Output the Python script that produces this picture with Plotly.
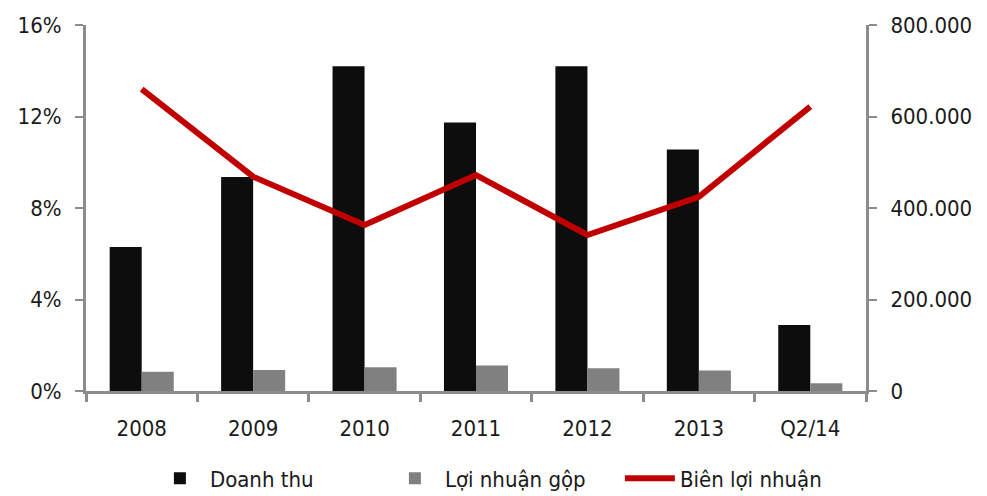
import plotly.graph_objects as go

categories = ["2008", "2009", "2010", "2011", "2012", "2013", "Q2/14"]
doanh_thu = [315000, 468000, 710000, 587000, 710000, 528000, 144000]
loi_nhuan_gop = [42000, 46000, 52000, 56000, 50000, 45000, 17000]
bien_loi_nhuan = [13.2, 9.37, 7.26, 9.44, 6.82, 8.49, 12.43]

left_ticks = [0, 4, 8, 12, 16]
left_labels = ["0%", "4%", "8%", "12%", "16%"]
right_ticks = [0, 200000, 400000, 600000, 800000]
right_labels = ["0", "200.000", "400.000", "600.000", "800.000"]

FONT = "DejaVu Sans Condensed, DejaVu Sans, sans-serif"
AX = "#8c8c8c"

fig = go.Figure()
fig.add_trace(go.Bar(x=categories, y=doanh_thu, name="Doanh thu",
                     marker=dict(color="#0d0d0d", line=dict(width=0)), yaxis="y"))
fig.add_trace(go.Bar(x=categories, y=loi_nhuan_gop, name="Lợi nhuận gộp",
                     marker=dict(color="#808080", line=dict(width=0)), yaxis="y"))
fig.add_trace(go.Scatter(x=categories, y=bien_loi_nhuan, name="Biên lợi nhuận",
                         mode="lines", line=dict(color="#c00000", width=6), yaxis="y2"))

fig.update_layout(
    width=979, height=488,
    margin=dict(l=78, r=121, t=17, b=105, autoexpand=False),
    paper_bgcolor="white", plot_bgcolor="white",
    font=dict(family=FONT, size=22, color="#1a1a1a"),
    barmode="group", bargap=0.425, bargroupgap=0,
    showlegend=True,
    legend=dict(orientation="h", x=0.505, xanchor="center", xref="container",
                y=0.036, yanchor="middle", yref="container",
                font=dict(size=22), itemwidth=50, traceorder="normal",
                entrywidth=170, entrywidthmode="pixels"),
    xaxis=dict(type="category", showline=True, linecolor=AX, linewidth=3,
               ticks="outside", tickson="boundaries", ticklen=8, tickwidth=3, tickcolor=AX,
               showgrid=False, ticklabelstandoff=16, automargin=False),
    yaxis=dict(side="right", range=[0, 800000], tickvals=right_ticks, ticktext=right_labels,
               showline=True, linecolor=AX, linewidth=3, ticks="outside", ticklen=8,
               tickwidth=2, tickcolor=AX, showgrid=False, zeroline=False,
               ticklabelstandoff=9, automargin=False),
    yaxis2=dict(side="left", overlaying="y", range=[0, 16], tickvals=left_ticks,
                ticktext=left_labels, showline=True, linecolor=AX, linewidth=3,
                ticks="outside", ticklen=8, tickwidth=2, tickcolor=AX, showgrid=False,
                zeroline=False, ticklabelstandoff=9, automargin=False),
)

fig.write_html("out.html")
